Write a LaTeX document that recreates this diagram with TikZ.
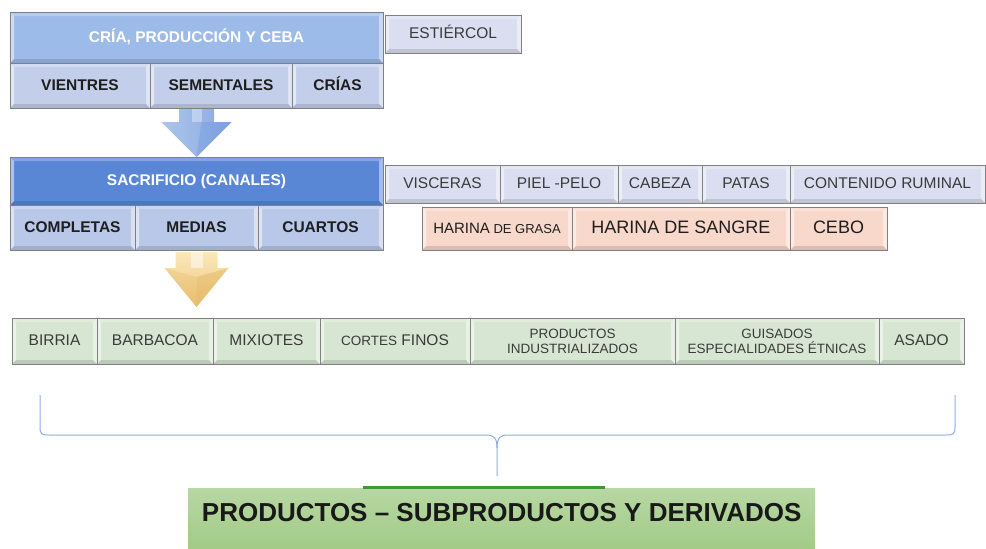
\documentclass[tikz,border=0pt]{standalone}
\usepackage{fontspec}
\setmainfont{Liberation Sans}
\usetikzlibrary{calc}
\definecolor{hdrA}{HTML}{9DBBE8}
\definecolor{hdrB}{HTML}{5A86D6}
\definecolor{rowA}{HTML}{C3CFEA}
\definecolor{rowB}{HTML}{B9C8E8}
\definecolor{sideC}{HTML}{DADEF0}
\definecolor{pinkC}{HTML}{F8D8CB}
\definecolor{greenC}{HTML}{D7E6D2}
\definecolor{titleA}{HTML}{B7D7A3}
\definecolor{titleB}{HTML}{A2CB86}
\definecolor{braceC}{HTML}{8EAEE3}
\definecolor{txtC}{HTML}{1E1E1E}
\definecolor{txtG}{HTML}{3A3A3A}
\definecolor{goldA}{HTML}{FBE7B8}
\definecolor{goldB}{HTML}{ECC070}
\definecolor{goldD}{HTML}{D9A94E}
\newcommand\cellbox[7]{%
  \node[cell,#6,minimum width={(#4-#2)*1pt},minimum height={(#5-#3)*1pt}] (#1) at (#2,#3) {#7};}
\tikzset{
  bevel/.style={path picture={
    \fill[white,opacity=.5] let \p1=(path picture bounding box.south west), \p2=(path picture bounding box.north east) in
      (\x1,\y1) -- (\x1,\y2) -- (\x1+4pt,\y2-4pt) -- (\x1+4pt,\y1+4pt) -- cycle;
    \fill[white,opacity=.25] let \p1=(path picture bounding box.south west), \p2=(path picture bounding box.north east) in
      (\x1,\y2) -- (\x2,\y2) -- (\x2-4pt,\y2-4pt) -- (\x1+4pt,\y2-4pt) -- cycle;
    \fill[white,opacity=.45] let \p1=(path picture bounding box.south west), \p2=(path picture bounding box.north east) in
      (\x2,\y2) -- (\x2,\y1) -- (\x2-4pt,\y1+4pt) -- (\x2-4pt,\y2-4pt) -- cycle;
    \fill[black,opacity=.12] let \p1=(path picture bounding box.south west), \p2=(path picture bounding box.north east) in
      (\x1,\y1) -- (\x2,\y1) -- (\x2-4pt,\y1+4pt) -- (\x1+4pt,\y1+4pt) -- cycle;
  }},
  cell/.style={draw=black!50, line width=0.9pt, anchor=north west, inner sep=0pt, outer sep=0pt,
    align=center, font=\fontsize{15.5}{18}\selectfont, text=txtG, bevel,
    text height=11pt, text depth=2pt},
  bold/.style={font=\fontsize{15.5}{18}\selectfont\bfseries, text=txtC},
  hdr/.style={font=\fontsize{15.5}{18}\selectfont\bfseries, text=white},
  twoline/.style={font=\fontsize{13.5}{15}\selectfont, text height=, text depth=},
}
\begin{document}
\begin{tikzpicture}[x=1pt,y=-1pt]
\useasboundingbox (0,0) rectangle (986,549);
% ---- top block
\cellbox{cria}{10}{12}{383}{63}{fill=hdrA,hdr}{CRÍA, PRODUCCIÓN Y CEBA}
\cellbox{estiercol}{385}{15}{521}{53}{fill=sideC}{ESTIÉRCOL}
% blue arrow
\cellbox{sac}{10}{157}{383}{205}{fill=hdrB,hdr}{SACRIFICIO (CANALES)}
\coordinate (bt) at (sac.north);
\shade[left color=hdrA!90!white, right color=hdrB!75!white, opacity=.95]
  ($(bt)+(-17.5,-62)$) -- ($(bt)+(17.5,-62)$) -- ($(bt)+(17.5,-35)$) -- ($(bt)+(35,-35)$)
  -- (bt) -- ($(bt)+(-35,-35)$) -- ($(bt)+(-17.5,-35)$) -- cycle;
\fill[white,opacity=.35] ($(bt)+(-5,-62)$) rectangle ($(bt)+(5,-35)$);
\fill[hdrB,opacity=.25] ($(bt)+(35,-35)$) -- (bt) -- ($(bt)+(5,-35)$) -- cycle;
\cellbox{vientres}{10}{63}{150}{108}{fill=rowA,bold}{VIENTRES}
\cellbox{sementales}{150}{63}{292}{108}{fill=rowA,bold}{SEMENTALES}
\cellbox{crias}{292}{63}{383}{108}{fill=rowA,bold}{CRÍAS}
% ---- second block
\cellbox{completas}{10}{205}{135}{250}{fill=rowB,bold}{COMPLETAS}
\cellbox{medias}{135}{205}{258}{250}{fill=rowB,bold}{MEDIAS}
\cellbox{cuartos}{258}{205}{383}{250}{fill=rowB,bold}{CUARTOS}
\cellbox{visceras}{385}{165}{500}{203}{fill=sideC}{VISCERAS}
\cellbox{piel}{500}{165}{618}{203}{fill=sideC}{PIEL -PELO}
\cellbox{cabeza}{618}{165}{702}{203}{fill=sideC}{CABEZA}
\cellbox{patas}{702}{165}{790}{203}{fill=sideC}{PATAS}
\cellbox{contenido}{790}{165}{985}{203}{fill=sideC}{CONTENIDO RUMINAL}
\cellbox{hgrasa}{422}{207}{572}{250}{fill=pinkC,text=txtC}{\fontsize{15}{18}\selectfont HARINA\fontsize{13}{18}\selectfont{} DE GRASA}
\cellbox{hsangre}{572}{207}{790}{250}{fill=pinkC,text=txtC,font=\fontsize{18}{20}\selectfont,text height=13pt,text depth=3pt}{HARINA DE SANGRE}
\cellbox{cebo}{790}{207}{887}{250}{fill=pinkC,text=txtC,font=\fontsize{18}{20}\selectfont,text height=13pt,text depth=3pt}{CEBO}
% gold arrow
\coordinate (gt) at ($(medias.south)+(0,57)$);
\shade[top color=goldA, bottom color=goldB, opacity=.95]
  ($(gt)+(-21,-55)$) -- ($(gt)+(21,-55)$) -- ($(gt)+(21,-39)$) -- ($(gt)+(32,-39)$)
  -- (gt) -- ($(gt)+(-32,-39)$) -- ($(gt)+(-21,-39)$) -- cycle;
\fill[white,opacity=.5] ($(gt)+(-6,-55)$) rectangle ($(gt)+(6,-39)$);
\fill[goldD,opacity=.35] ($(gt)+(32,-39)$) -- (gt) -- ($(gt)+(0,-30)$) -- cycle;
\fill[goldD,opacity=.2] ($(gt)+(-32,-39)$) -- (gt) -- ($(gt)+(0,-30)$) -- cycle;
% ---- green row
\cellbox{birria}{12}{318}{97}{364}{fill=greenC}{BIRRIA}
\cellbox{barbacoa}{97}{318}{213}{364}{fill=greenC}{BARBACOA}
\cellbox{mixiotes}{213}{318}{320}{364}{fill=greenC}{MIXIOTES}
\cellbox{cortes}{320}{318}{470}{364}{fill=greenC}{\fontsize{13.5}{18}\selectfont CORTES\fontsize{15.5}{18}\selectfont{} FINOS}
\cellbox{industr}{470}{318}{675}{364}{fill=greenC,twoline}{PRODUCTOS\\INDUSTRIALIZADOS}
\cellbox{guisados}{675}{318}{879}{364}{fill=greenC,twoline}{GUISADOS\\ESPECIALIDADES ÉTNICAS}
\cellbox{asado}{879}{318}{964}{364}{fill=greenC}{ASADO}
% ---- brace
\coordinate (brL) at (40,395);
\coordinate (brR) at (955,395);
\coordinate (brM) at (497,476);
\draw[braceC, line width=1pt]
  (brL) -- (40,427) .. controls (40,435) and (42,435) .. (50,435) -- (486,435)
  .. controls (494,435) and (497,438) .. (497,448) -- (brM);
\draw[braceC, line width=1pt]
  (brR) -- (955,427) .. controls (955,435) and (953,435) .. (945,435) -- (508,435)
  .. controls (500,435) and (497,438) .. (497,448);
% ---- title box
\node[anchor=north west, minimum width=627pt, minimum height=62pt, inner sep=0pt,
  top color=titleA, bottom color=titleB] (prod) at (188,488) {};
\draw[green!45!black!60!titleB, line width=3pt] (363,487) -- (605,487);
\node[font=\fontsize{26}{30}\selectfont\bfseries, text=black!90] (prodtxt)
  at ($(prod.center)+(0,-7)$) {PRODUCTOS – SUBPRODUCTOS Y DERIVADOS};
\end{tikzpicture}
\end{document}
